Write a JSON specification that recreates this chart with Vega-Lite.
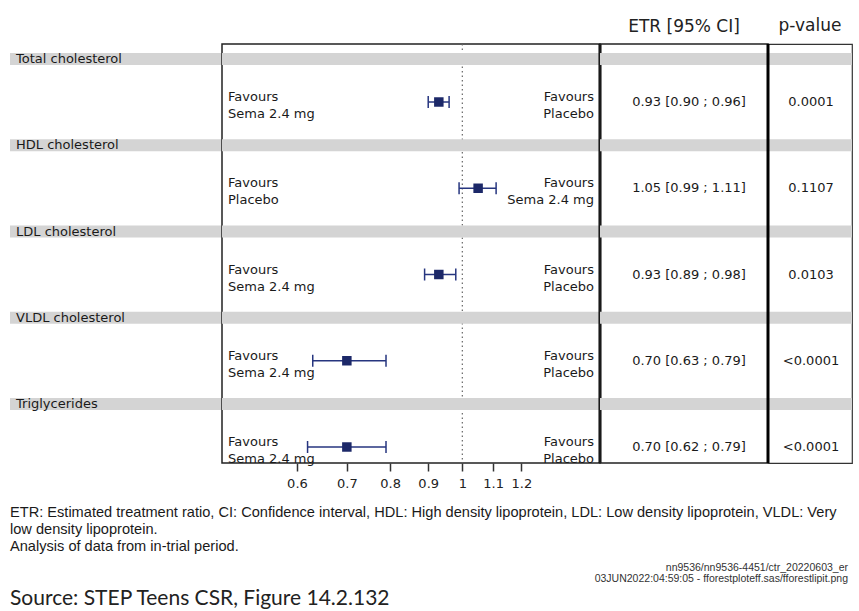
{
  "$schema": "https://vega.github.io/schema/vega-lite/v6.json",
  "padding": {"left": 4, "top": 15, "right": 2, "bottom": 0},
  "background": "white",
  "config": {
    "view": {"stroke": null},
    "font": "DejaVu Sans",
    "text": {"font": "DejaVu Sans", "fontSize": 13, "color": "#1a1a1a"},
    "title": {"font": "DejaVu Sans", "fontWeight": "normal", "fontSize": 17, "color": "#222222", "offset": 8}
  },
  "datasets": {
    "rows": [
      {"param": "Total cholesterol", "est": 0.93, "lo": 0.90, "hi": 0.96, "etr": "0.93 [0.90 ; 0.96]", "p": "0.0001", "leftLabel": "Favours\nSema 2.4 mg", "rightLabel": "Favours\nPlacebo"},
      {"param": "HDL cholesterol", "est": 1.05, "lo": 0.99, "hi": 1.11, "etr": "1.05 [0.99 ; 1.11]", "p": "0.1107", "leftLabel": "Favours\nPlacebo", "rightLabel": "Favours\nSema 2.4 mg"},
      {"param": "LDL cholesterol", "est": 0.93, "lo": 0.89, "hi": 0.98, "etr": "0.93 [0.89 ; 0.98]", "p": "0.0103", "leftLabel": "Favours\nSema 2.4 mg", "rightLabel": "Favours\nPlacebo"},
      {"param": "VLDL cholesterol", "est": 0.70, "lo": 0.63, "hi": 0.79, "etr": "0.70 [0.63 ; 0.79]", "p": "<0.0001", "leftLabel": "Favours\nSema 2.4 mg", "rightLabel": "Favours\nPlacebo"},
      {"param": "Triglycerides", "est": 0.70, "lo": 0.62, "hi": 0.79, "etr": "0.70 [0.62 ; 0.79]", "p": "<0.0001", "leftLabel": "Favours\nSema 2.4 mg", "rightLabel": "Favours\nPlacebo"}
    ],
    "notes": [
      {"line": 1, "block": "left", "text": "ETR: Estimated treatment ratio, CI: Confidence interval, HDL: High density lipoprotein, LDL: Low density lipoprotein, VLDL: Very"},
      {"line": 2, "block": "left", "text": "low density lipoprotein."},
      {"line": 3, "block": "left", "text": "Analysis of data from in-trial period."},
      {"line": 4, "block": "right", "text": "nn9536/nn9536-4451/ctr_20220603_er"},
      {"line": 5, "block": "right", "text": "03JUN2022:04:59:05 - fforestploteff.sas/fforestlipit.png"},
      {"line": 6, "block": "left", "text": "Source: STEP Teens CSR, Figure 14.2.132"}
    ]
  },
  "spacing": 13,
  "vconcat": [
    {
      "hconcat": [
        {
          "width": 212, "height": 419,
          "data": {"name": "rows"},
          "layer": [
            {"mark": {"type": "rule", "color": "#d4d4d4", "strokeWidth": 12, "yOffset": -22},
             "encoding": {"y": {"field": "param", "type": "nominal", "scale": {"type": "point", "domain": ["Total cholesterol", "HDL cholesterol", "LDL cholesterol", "VLDL cholesterol", "Triglycerides"], "padding": 0.429}, "axis": null}}},
            {"mark": {"type": "text", "align": "left", "baseline": "middle", "dx": 6, "yOffset": -22, "fontSize": 13, "color": "#1a1a1a"},
             "encoding": {
               "x": {"datum": "left", "type": "nominal", "scale": {"type": "point", "domain": ["left", "right"], "padding": 0}, "axis": null},
               "y": {"field": "param", "type": "nominal"},
               "text": {"field": "param"}}}
          ]
        },
        {
          "width": 378, "height": 419,
          "view": {"stroke": "#222222", "strokeWidth": 1.5},
          "data": {"name": "rows"},
          "layer": [
            {"data": {"values": [{}]},
             "mark": {"type": "rule", "strokeDash": [1.5, 3], "color": "#666666", "strokeWidth": 1.2},
             "encoding": {"x": {"datum": 1, "type": "quantitative",
               "scale": {"type": "log", "domain": [0.476, 1.53], "nice": false},
               "axis": {"values": [0.6, 0.7, 0.8, 0.9, 1, 1.1, 1.2], "format": ".1~f", "orient": "bottom", "domain": false, "grid": false, "tickSize": 8, "tickWidth": 1.5, "tickColor": "#333333", "labelFont": "DejaVu Sans", "labelFontSize": 13, "labelColor": "#222222", "labelPadding": 6, "title": null}}}},
            {"mark": {"type": "rule", "color": "#d4d4d4", "strokeWidth": 12, "yOffset": -22},
             "encoding": {"y": {"field": "param", "type": "nominal", "scale": {"type": "point", "domain": ["Total cholesterol", "HDL cholesterol", "LDL cholesterol", "VLDL cholesterol", "Triglycerides"], "padding": 0.429}, "axis": null}}},
            {"mark": {"type": "rule", "color": "#26357f", "strokeWidth": 1.5, "yOffset": 21},
             "encoding": {"x": {"field": "lo", "type": "quantitative"}, "x2": {"field": "hi"}, "y": {"field": "param", "type": "nominal"}}},
            {"mark": {"type": "tick", "color": "#26357f", "thickness": 1.5, "size": 12, "yOffset": 21, "opacity": 1},
             "encoding": {"x": {"field": "lo", "type": "quantitative"}, "y": {"field": "param", "type": "nominal"}}},
            {"mark": {"type": "tick", "color": "#26357f", "thickness": 1.5, "size": 12, "yOffset": 21, "opacity": 1},
             "encoding": {"x": {"field": "hi", "type": "quantitative"}, "y": {"field": "param", "type": "nominal"}}},
            {"mark": {"type": "square", "filled": true, "opacity": 1, "color": "#1c2868", "size": 90, "yOffset": 21},
             "encoding": {"x": {"field": "est", "type": "quantitative"}, "y": {"field": "param", "type": "nominal"}}},
            {"mark": {"type": "text", "align": "left", "baseline": "middle", "lineBreak": "\n", "lineHeight": 17, "dx": 6, "yOffset": 16, "fontSize": 13, "color": "#1a1a1a"},
             "encoding": {"x": {"datum": 0.476, "type": "quantitative"}, "y": {"field": "param", "type": "nominal"}, "text": {"field": "leftLabel"}}},
            {"mark": {"type": "text", "align": "right", "baseline": "middle", "lineBreak": "\n", "lineHeight": 17, "dx": -6, "yOffset": 16, "fontSize": 13, "color": "#1a1a1a"},
             "encoding": {"x": {"datum": 1.53, "type": "quantitative"}, "y": {"field": "param", "type": "nominal"}, "text": {"field": "rightLabel"}}},
            {"data": {"values": [{}]},
             "mark": {"type": "rule", "color": "black", "strokeWidth": 3},
             "encoding": {"x": {"datum": 1.53, "type": "quantitative"}}}
          ]
        },
        {
          "width": 168, "height": 419,
          "view": {"stroke": "#222222", "strokeWidth": 1.5},
          "title": {"text": "ETR [95% CI]"},
          "data": {"name": "rows"},
          "layer": [
            {"mark": {"type": "rule", "color": "#d4d4d4", "strokeWidth": 12, "yOffset": -22},
             "encoding": {"y": {"field": "param", "type": "nominal", "scale": {"type": "point", "domain": ["Total cholesterol", "HDL cholesterol", "LDL cholesterol", "VLDL cholesterol", "Triglycerides"], "padding": 0.429}, "axis": null}}},
            {"mark": {"type": "text", "baseline": "middle", "yOffset": 21, "dx": 5, "fontSize": 13, "color": "#1a1a1a"},
             "encoding": {"y": {"field": "param", "type": "nominal"}, "text": {"field": "etr"}}}
          ]
        },
        {
          "width": 84, "height": 419,
          "view": {"stroke": "#333333", "strokeWidth": 1.2},
          "title": {"text": "p-value"},
          "data": {"name": "rows"},
          "layer": [
            {"mark": {"type": "rule", "color": "#d4d4d4", "strokeWidth": 12, "yOffset": -22},
             "encoding": {"y": {"field": "param", "type": "nominal", "scale": {"type": "point", "domain": ["Total cholesterol", "HDL cholesterol", "LDL cholesterol", "VLDL cholesterol", "Triglycerides"], "padding": 0.429}, "axis": null}}},
            {"mark": {"type": "text", "baseline": "middle", "yOffset": 21, "dx": 1, "fontSize": 13, "color": "#1a1a1a"},
             "encoding": {"y": {"field": "param", "type": "nominal"}, "text": {"field": "p"}}},
            {"data": {"values": [{}]},
             "mark": {"type": "rule", "color": "black", "strokeWidth": 3},
             "encoding": {"x": {"datum": "left", "type": "nominal", "scale": {"type": "point", "domain": ["left", "right"], "padding": 0}, "axis": null}}}
          ]
        }
      ],
      "spacing": 0,
      "bounds": "flush"
    },
    {
      "width": 838, "height": 104,
      "data": {"name": "notes"},
      "encoding": {
        "x": {"field": "block", "type": "nominal", "scale": {"type": "point", "domain": ["left", "right"], "padding": 0}, "axis": null},
        "y": {"field": "line", "type": "ordinal", "scale": {"type": "point", "padding": 0.5}, "axis": null},
        "text": {"field": "text"}
      },
      "layer": [
        {"transform": [{"filter": {"field": "line", "oneOf": [1, 2, 3]}}],
         "mark": {"type": "text", "align": "left", "baseline": "middle", "font": "Liberation Sans", "fontSize": 14.6, "color": "#1a1a1a"}},
        {"transform": [{"filter": {"field": "line", "equal": 4}}],
         "mark": {"type": "text", "align": "right", "baseline": "middle", "font": "Liberation Sans", "fontSize": 10.5, "color": "#333333", "yOffset": 3}},
        {"transform": [{"filter": {"field": "line", "equal": 5}}],
         "mark": {"type": "text", "align": "right", "baseline": "middle", "font": "Liberation Sans", "fontSize": 10.5, "color": "#333333", "yOffset": -3}},
        {"transform": [{"filter": {"field": "line", "equal": 6}}],
         "mark": {"type": "text", "align": "left", "baseline": "middle", "font": "Lato", "fontSize": 21, "color": "#222222"}}
      ]
    }
  ]
}
